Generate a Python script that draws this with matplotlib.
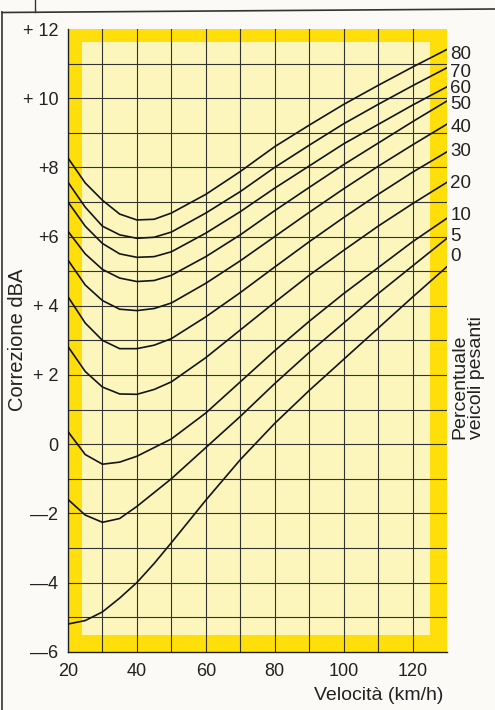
import matplotlib.pyplot as plt
from matplotlib.lines import Line2D
from matplotlib.patches import Rectangle

plt.rcParams['font.family'] = ['Liberation Sans', 'DejaVu Sans']

# velocita' (km/h) at which each curve was read
speeds = [20, 25, 30, 35, 40, 45, 50, 60, 70, 80, 90, 100, 110, 120, 130]

# correzione dBA for each share of heavy vehicles
corr_0 = [-5.20, -5.10, -4.85, -4.45, -4.00, -3.45, -2.85, -1.62, -0.45, 0.60, 1.55, 2.45, 3.35, 4.25, 5.13]
corr_5 = [-1.60, -2.05, -2.26, -2.15, -1.80, -1.40, -1.00, -0.10, 0.80, 1.75, 2.65, 3.50, 4.35, 5.15, 5.95]
corr_10 = [0.36, -0.30, -0.58, -0.52, -0.35, -0.10, 0.15, 0.90, 1.80, 2.70, 3.55, 4.35, 5.10, 5.85, 6.53]
corr_20 = [2.82, 2.10, 1.65, 1.45, 1.44, 1.58, 1.80, 2.50, 3.30, 4.10, 4.88, 5.60, 6.30, 6.95, 7.57]
corr_30 = [4.26, 3.50, 3.00, 2.76, 2.76, 2.86, 3.05, 3.68, 4.38, 5.12, 5.85, 6.55, 7.22, 7.86, 8.45]
corr_40 = [5.32, 4.60, 4.15, 3.90, 3.86, 3.92, 4.08, 4.65, 5.30, 6.00, 6.70, 7.38, 8.03, 8.65, 9.25]
corr_50 = [6.15, 5.50, 5.05, 4.80, 4.70, 4.73, 4.88, 5.42, 6.05, 6.75, 7.42, 8.08, 8.70, 9.32, 9.92]
corr_60 = [7.00, 6.30, 5.80, 5.50, 5.40, 5.42, 5.56, 6.10, 6.72, 7.40, 8.04, 8.68, 9.24, 9.80, 10.33]
corr_70 = [7.57, 6.85, 6.30, 6.05, 5.95, 5.98, 6.13, 6.68, 7.30, 8.00, 8.64, 9.26, 9.82, 10.36, 10.88]
corr_80 = [8.27, 7.55, 7.05, 6.65, 6.48, 6.50, 6.68, 7.22, 7.88, 8.60, 9.22, 9.82, 10.37, 10.90, 11.41]

percent = ['0', '5', '10', '20', '30', '40', '50', '60', '70', '80']
curves = [corr_0, corr_5, corr_10, corr_20, corr_30, corr_40, corr_50, corr_60, corr_70, corr_80]
label_y = [5.41, 5.99, 6.62, 7.52, 8.47, 9.14, 9.83, 10.27, 10.73, 11.25]

y_ticks = [12, 10, 8, 6, 4, 2, 0, -2, -4, -6]
y_ticklabels = ['+ 12', '+ 10', '+8', '+6', '+ 4', '+ 2', '0', '\u20142', '\u20144', '\u20146']
x_ticks = [20, 40, 60, 80, 100, 120]

W, H = 495, 710
fig = plt.figure(figsize=(W / 100, H / 100), dpi=100)
fig.patch.set_facecolor('#fbfaf6')

ax = fig.add_axes([68 / W, 58.3 / H, 379 / W, 622.7 / H])
ax.set_xlim(20, 130)
ax.set_ylim(-6, 12)
ax.set_facecolor('#ffde0a')

# pale inner field inside the yellow band
ax.add_patch(Rectangle((24, -5.52), 125.2 - 24, 11.62 + 5.52,
                       facecolor='#fcf6bd', edgecolor='none', zorder=0.5))

for x in range(30, 130, 10):
    ax.axvline(x, color='#333333', lw=0.8, zorder=1)
for y in range(-5, 12):
    ax.axhline(y, color='#333333', lw=0.8, zorder=1)

for vals in curves:
    ax.plot(speeds, vals, color='#151515', lw=1.2, zorder=3, solid_joinstyle='round')

for name, yy in zip(percent, label_y):
    ax.text(131, yy, name, fontsize=13.5, ha='left', va='center', color='#222222',
            clip_on=False)

for s in ['top', 'right']:
    ax.spines[s].set_visible(False)
for s in ['left', 'bottom']:
    ax.spines[s].set_color('#222222')
    ax.spines[s].set_linewidth(1.0)

ax.set_yticks(y_ticks)
ax.set_yticklabels(y_ticklabels)
ax.set_xticks(x_ticks)
ax.tick_params(length=0, labelsize=13, colors='#222222', pad=7)
ax.tick_params(axis='x', pad=8)

fig.text(18 / W, 1 - 340 / H, 'Correzione dBA', rotation=90, fontsize=14.5,
         ha='center', va='center', color='#222222')
fig.text(443 / W, 1 - 695 / H, 'Velocit\u00e0 (km/h)', fontsize=14,
         ha='right', va='center', color='#222222')
fig.text(468 / W, 1 - 378 / H, 'Percentuale\nveicoli pesanti', rotation=90,
         fontsize=14, ha='center', va='center', multialignment='left',
         color='#222222', linespacing=1.0)

# page frame lines
fig.add_artist(Line2D([2 / W, 2 / W], [0, 1 - 12 / H], color='#333333', lw=1.2))
fig.add_artist(Line2D([2 / W, 1], [1 - 12.5 / H, 1 - 9 / H], color='#333333', lw=1.2))
fig.add_artist(Line2D([35 / W, 35 / W], [1 - 12 / H, 1], color='#333333', lw=1.0))

fig.savefig('out.png', dpi=100, facecolor=fig.get_facecolor())
